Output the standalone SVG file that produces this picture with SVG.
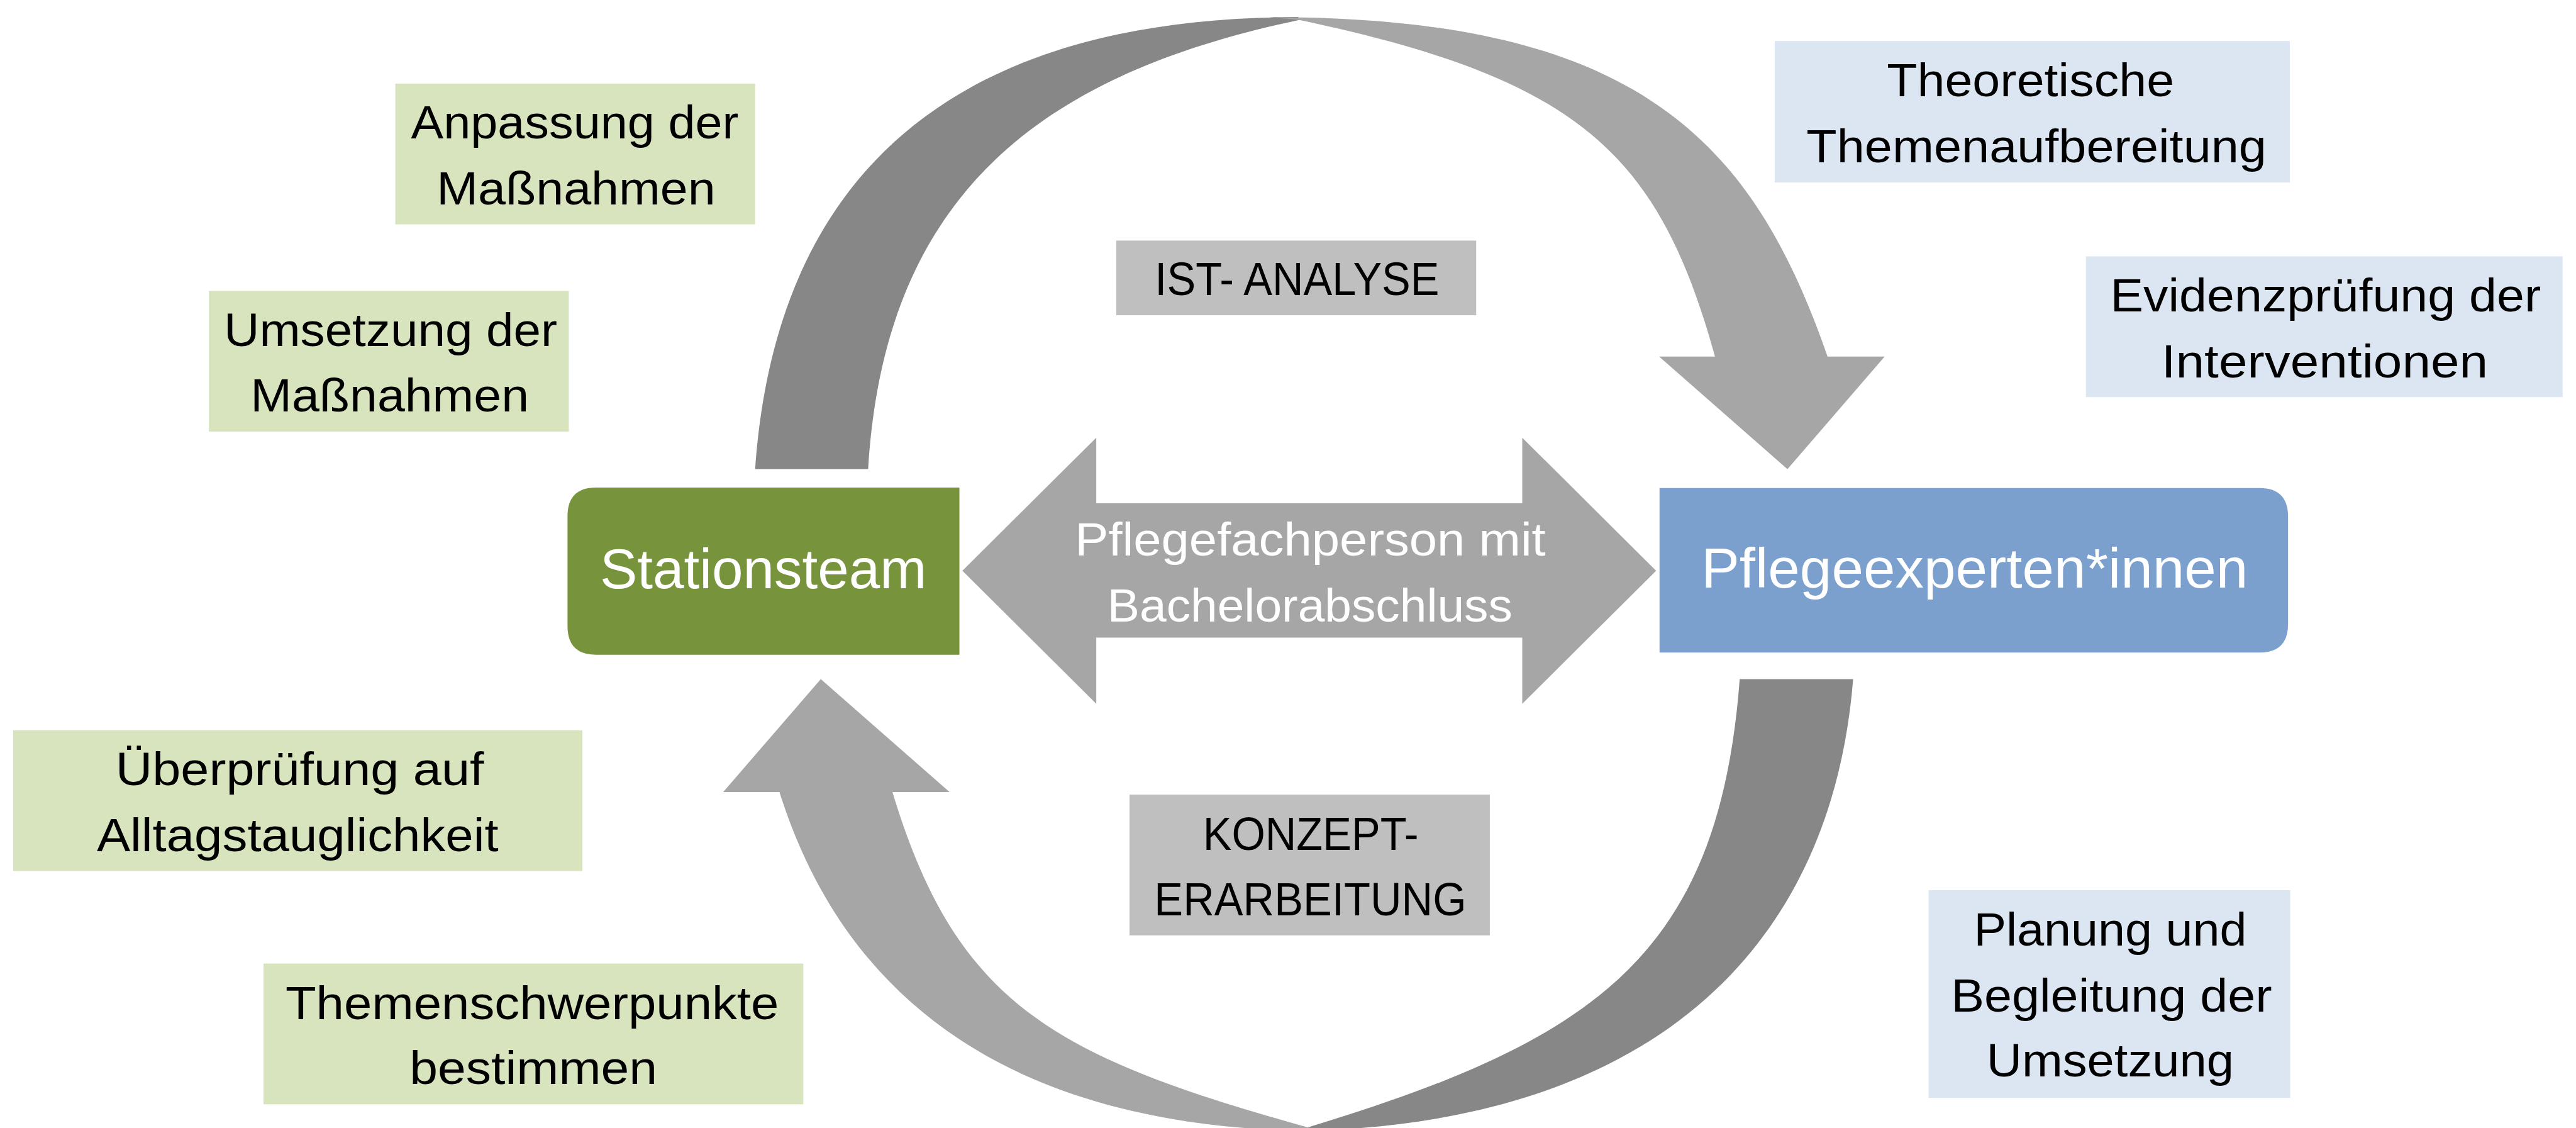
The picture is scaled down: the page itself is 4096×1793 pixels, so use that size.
<svg xmlns="http://www.w3.org/2000/svg" width="4096" height="1793" viewBox="0 0 4096 1793">
<style>
.t{font-family:"Liberation Sans",Arial,sans-serif;font-size:110px;fill:#000000;text-anchor:middle}
.w{fill:#ffffff}
.big{font-size:130px}
.g{fill:#D7E4BD}
.b{fill:#DCE6F2}
.lbl{fill:#BFBFBF}
.dark{fill:#878787}
.light{fill:#A6A6A6}
</style>
<rect width="4096" height="1793" fill="#ffffff"/>
<g transform="scale(0.678)">
<g id="connectors">
<path class="dark" d="M1771,1100 C1820,400 2245,40 3045,40 L3047,47 C2448,173 2075,450 2036,1100 Z"/>
<path class="light" d="M2977,40 C3827,40 4106,316 4286,836 L4420,836 L4192,1100 L3891,836 L4022,836 C3889,354 3697,184 3047,47 Z"/>
<path class="dark" d="M4080,1592 L4346,1592 C4294,2242 3850,2652 3000,2652 L3067,2643 C3737,2440 4031,2242 4080,1592 Z"/>
<path class="light" d="M3110,2652 C2360,2652 1978,2332 1828,1857 L1696,1857 L1925,1592 L2227,1857 L2093,1857 C2244,2355 2470,2476 3067,2643 Z"/>
<g id="double-arrow">
<path class="light" d="M2257,1338 L2571,1026 L2571,1180 L3570,1180 L3570,1026 L3884,1338 L3570,1650 L3570,1495 L2571,1495 L2571,1650 Z"/>
<text class="t w" x="3073" y="1303" textLength="1104" lengthAdjust="spacingAndGlyphs">Pflegefachperson mit</text>
<text class="t w" x="3072" y="1457" textLength="950" lengthAdjust="spacingAndGlyphs">Bachelorabschluss</text>
</g>
</g>
<g id="stationsteam">
<path fill="#77933C" d="M1398,1143 H2250 V1535 H1398 Q1331,1535 1331,1468 V1210 Q1331,1143 1398,1143 Z"/>
<text class="t w big" x="1790" y="1379" textLength="766" lengthAdjust="spacingAndGlyphs">Stationsteam</text>
</g>
<g id="pflegeexperten">
<path fill="#7BA0CD" d="M3892,1144 H5299 Q5366,1144 5366,1211 V1463 Q5366,1530 5299,1530 H3892 Z"/>
<text class="t w big" x="4631" y="1377" textLength="1282" lengthAdjust="spacingAndGlyphs">Pflegeexperten*innen</text>
</g>
<g id="ist-analyse">
<rect class="lbl" x="2618" y="564" width="844" height="175"/>
<text class="t" x="3042" y="692" textLength="667" lengthAdjust="spacingAndGlyphs">IST- ANALYSE</text>
</g>
<g id="konzept">
<rect class="lbl" x="2649" y="1863" width="845" height="330"/>
<text class="t" x="3074" y="1992" textLength="506" lengthAdjust="spacingAndGlyphs">KONZEPT-</text>
<text class="t" x="3073" y="2146" textLength="732" lengthAdjust="spacingAndGlyphs">ERARBEITUNG</text>
</g>
<g id="anpassung">
<rect class="g" x="927" y="196" width="844" height="330"/>
<text class="t" x="1348" y="325" textLength="768" lengthAdjust="spacingAndGlyphs">Anpassung der</text>
<text class="t" x="1351" y="479" textLength="654" lengthAdjust="spacingAndGlyphs">Maßnahmen</text>
</g>
<g id="umsetzung">
<rect class="g" x="490" y="682" width="844" height="330"/>
<text class="t" x="916" y="811" textLength="782" lengthAdjust="spacingAndGlyphs">Umsetzung der</text>
<text class="t" x="914" y="964" textLength="653" lengthAdjust="spacingAndGlyphs">Maßnahmen</text>
</g>
<g id="ueberpruefung">
<rect class="g" x="31" y="1712" width="1335" height="330"/>
<text class="t" x="703" y="1840" textLength="864" lengthAdjust="spacingAndGlyphs">Überprüfung auf</text>
<text class="t" x="698" y="1996" textLength="942" lengthAdjust="spacingAndGlyphs">Alltagstauglichkeit</text>
</g>
<g id="themenschwerpunkte">
<rect class="g" x="618" y="2259" width="1266" height="330"/>
<text class="t" x="1248" y="2389" textLength="1157" lengthAdjust="spacingAndGlyphs">Themenschwerpunkte</text>
<text class="t" x="1251" y="2542" textLength="581" lengthAdjust="spacingAndGlyphs">bestimmen</text>
</g>
<g id="theoretische">
<rect class="b" x="4162" y="96" width="1208" height="332"/>
<text class="t" x="4762" y="225" textLength="674" lengthAdjust="spacingAndGlyphs">Theoretische</text>
<text class="t" x="4776" y="380" textLength="1079" lengthAdjust="spacingAndGlyphs">Themenaufbereitung</text>
</g>
<g id="evidenz">
<rect class="b" x="4892" y="601" width="1118" height="330"/>
<text class="t" x="5454" y="730" textLength="1010" lengthAdjust="spacingAndGlyphs">Evidenzprüfung der</text>
<text class="t" x="5452" y="885" textLength="766" lengthAdjust="spacingAndGlyphs">Interventionen</text>
</g>
<g id="planung">
<rect class="b" x="4523" y="2087" width="848" height="487"/>
<text class="t" x="4949" y="2217" textLength="640" lengthAdjust="spacingAndGlyphs">Planung und</text>
<text class="t" x="4952" y="2371" textLength="753" lengthAdjust="spacingAndGlyphs">Begleitung der</text>
<text class="t" x="4949" y="2524" textLength="580" lengthAdjust="spacingAndGlyphs">Umsetzung</text>
</g>
</g>
</svg>
